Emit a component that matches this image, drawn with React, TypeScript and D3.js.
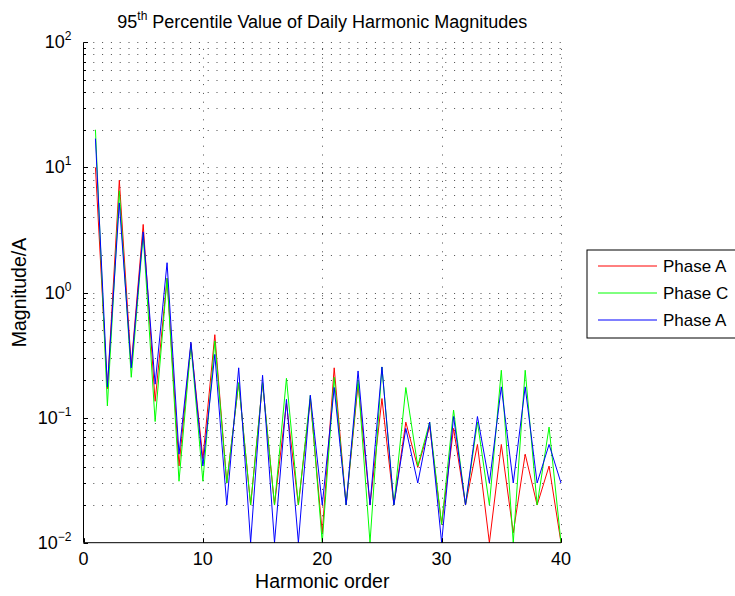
import React from "react";
import * as d3 from "d3";

// Harmonic orders 1..40
const harmonics: number[] = d3.range(1, 41);

// 95th percentile magnitudes (A) per harmonic order
const phaseA1: number[] = [
  10, 0.17, 7.9, 0.26, 3.5, 0.135, 1.3, 0.041, 0.39, 0.047,
  0.46, 0.03, 0.19, 0.02, 0.19, 0.02, 0.13, 0.02, 0.14, 0.012,
  0.25, 0.02, 0.185, 0.02, 0.142, 0.02, 0.092, 0.04, 0.085, 0.014,
  0.082, 0.02, 0.061, 0.01, 0.061, 0.012, 0.051, 0.02, 0.041, 0.01,
];
const phaseC: number[] = [
  20, 0.124, 6.5, 0.21, 2.9, 0.093, 1.3, 0.031, 0.38, 0.031,
  0.41, 0.03, 0.19, 0.02, 0.19, 0.02, 0.206, 0.02, 0.15, 0.01,
  0.21, 0.02, 0.2, 0.01, 0.254, 0.02, 0.174, 0.041, 0.092, 0.014,
  0.115, 0.02, 0.092, 0.02, 0.239, 0.01, 0.239, 0.02, 0.084, 0.01,
];
const phaseA2: number[] = [
  17, 0.176, 5.2, 0.25, 3.05, 0.185, 1.73, 0.051, 0.4, 0.041,
  0.32, 0.02, 0.25, 0.01, 0.218, 0.01, 0.14, 0.01, 0.151, 0.02,
  0.174, 0.02, 0.236, 0.02, 0.254, 0.02, 0.082, 0.03, 0.092, 0.01,
  0.102, 0.02, 0.102, 0.03, 0.176, 0.03, 0.176, 0.03, 0.061, 0.03,
];

const seriesNames: string[] = ["Phase A", "Phase C", "Phase A"];
const seriesColors: string[] = ["#ff0000", "#00ff00", "#0000ff"];
const seriesValues: number[][] = [phaseA1, phaseC, phaseA2];

const xTicks: number[] = [0, 10, 20, 30, 40];
const yDecades: number[] = [-2, -1, 0, 1, 2];

const W = 735;
const H = 596;
const left = 83.5;
const right = 561;
const top = 42.3;
const bottom = 542.7;
const font = "'Liberation Sans', Arial, Helvetica, sans-serif";
const fs = 18;
const labelFs = 19.5;

export default function App() {
  const x = d3.scaleLinear().domain([0, 40]).range([left, right]);
  const y = d3.scaleLog().domain([0.01, 100]).range([bottom, top]);

  const line = d3
    .line<[number, number]>()
    .x((d) => x(d[0]))
    .y((d) => y(d[1]));

  // minor log grid values 2..9 in each decade
  const minor: number[] = [];
  for (let e = -2; e < 2; e++) {
    for (let m = 2; m <= 9; m++) minor.push(m * Math.pow(10, e));
  }
  const majorY = yDecades.map((e) => Math.pow(10, e));
  const gridY = [...majorY, ...minor].filter((v) => v > 0.01);
  const gridX = xTicks.filter((t) => t > 0);

  const dot = { stroke: "#000", strokeWidth: 1, strokeDasharray: "1 7.8", opacity: 0.7 };

  return (
    <svg width={W} height={H} style={{ display: "block", position: "absolute", left: 0, top: 0, background: "#fff" }}>
      <rect x={0} y={0} width={W} height={H} fill="#fff" />
      <defs>
        <clipPath id="plotClip">
          <rect x={left} y={top - 1} width={right - left + 1} height={bottom - top + 2} />
        </clipPath>
      </defs>

      {/* dotted grid */}
      {gridY.map((v, i) => (
        <line key={"gy" + i} x1={left + 1} x2={right} y1={Math.round(y(v)) + 0.5} y2={Math.round(y(v)) + 0.5} {...dot} />
      ))}
      {gridX.map((t) => (
        <line key={"gx" + t} x1={Math.round(x(t)) + 0.5} x2={Math.round(x(t)) + 0.5} y1={bottom} y2={top} {...dot} />
      ))}

      {/* series */}
      <g clipPath="url(#plotClip)">
        {seriesValues.map((vals, si) => (
          <path
            key={"s" + si}
            d={line(harmonics.map((h, i) => [h, vals[i]] as [number, number])) || ""}
            fill="none"
            stroke={seriesColors[si]}
            strokeWidth={1}
          />
        ))}
      </g>

      {/* axes */}
      <line x1={left} x2={left} y1={top} y2={bottom} stroke="#000" strokeWidth={1} />
      <line x1={left} x2={right} y1={bottom} y2={bottom} stroke="#000" strokeWidth={1} />

      {/* y ticks */}
      {majorY.map((v, i) => (
        <line key={"yt" + i} x1={left} x2={left + 4.5} y1={Math.round(y(v)) + 0.5} y2={Math.round(y(v)) + 0.5} stroke="#000" strokeWidth={1} />
      ))}
      {minor.map((v, i) => (
        <line key={"ym" + i} x1={left} x2={left + 2.5} y1={Math.round(y(v)) + 0.5} y2={Math.round(y(v)) + 0.5} stroke="#000" strokeWidth={1} />
      ))}
      {yDecades.map((e) => (
        <text key={"yl" + e} x={left - 12} y={y(Math.pow(10, e)) + 6} textAnchor="end" fontFamily={font} fontSize={fs} fill="#000">
          10
          <tspan dy={-8} fontSize={12}>{e < 0 ? "\u2212" + Math.abs(e) : String(e)}</tspan>
        </text>
      ))}

      {/* x ticks */}
      {xTicks.map((t) => (
        <g key={"xt" + t}>
          <line x1={Math.round(x(t)) + 0.5} x2={Math.round(x(t)) + 0.5} y1={bottom} y2={bottom - 4.5} stroke="#000" strokeWidth={1} />
          <text x={x(t)} y={bottom + 22} textAnchor="middle" fontFamily={font} fontSize={fs} fill="#000">
            {t}
          </text>
        </g>
      ))}

      {/* labels */}
      <text x={(left + right) / 2} y={588} textAnchor="middle" fontFamily={font} fontSize={labelFs} fill="#000">
        Harmonic order
      </text>
      <text
        transform={`translate(26,${(top + bottom) / 2}) rotate(-90)`}
        textAnchor="middle"
        fontFamily={font}
        fontSize={labelFs}
        fill="#000"
      >
        Magnitude/A
      </text>
      <text x={(left + right) / 2} y={28} textAnchor="middle" fontFamily={font} fontSize={fs} fill="#000">
        95<tspan dy={-8} fontSize={12}>th</tspan>
        <tspan dy={8}> Percentile Value of Daily Harmonic Magnitudes</tspan>
      </text>

      {/* legend */}
      <g>
        <rect x={587} y={250} width={200} height={88} fill="#fff" stroke="#000" strokeWidth={1} />
        {seriesNames.map((name, i) => (
          <g key={"lg" + i}>
            <line x1={598} x2={657} y1={266 + i * 27} y2={266 + i * 27} stroke={seriesColors[i]} strokeWidth={1} />
            <text x={663} y={272 + i * 27} fontFamily={font} fontSize={17} fill="#000">
              {name}
            </text>
          </g>
        ))}
      </g>
    </svg>
  );
}
